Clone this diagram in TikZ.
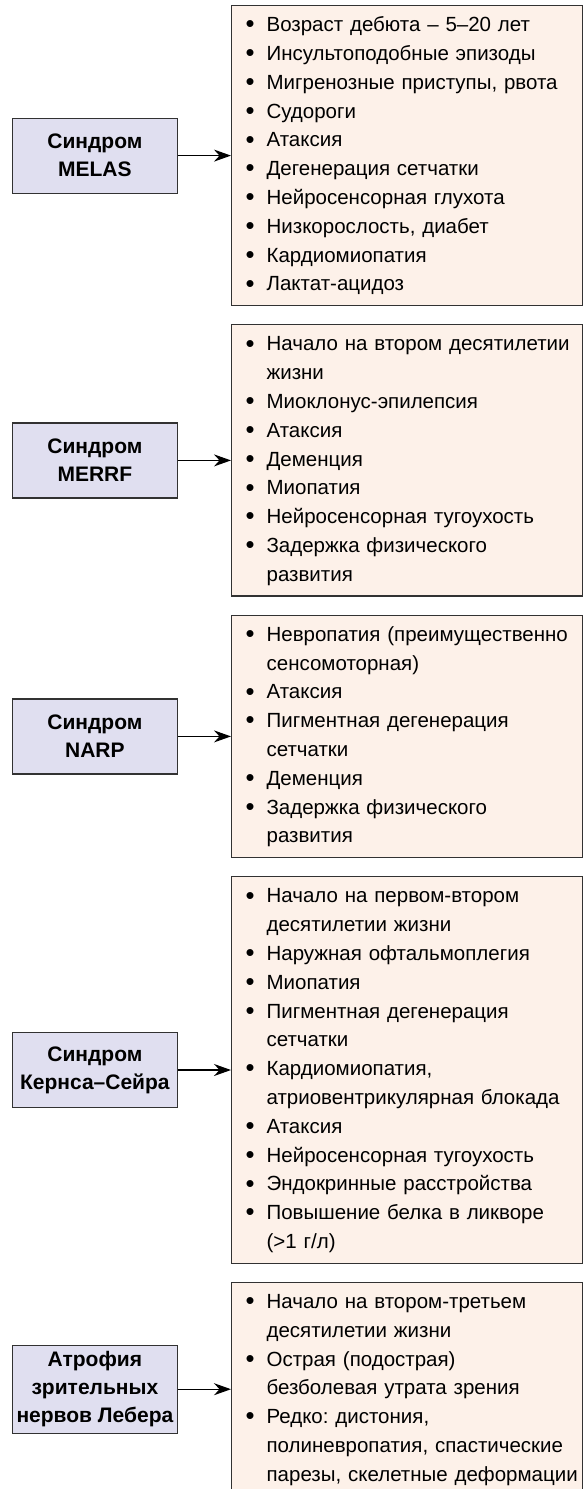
\documentclass[tikz,border=0pt]{standalone}
\usepackage{fontspec}
\usepackage{graphicx}
\setmainfont{Liberation Sans}
\usetikzlibrary{arrows.meta, positioning}
\definecolor{BoxLine}{RGB}{50,50,50}
\definecolor{SynFill}{RGB}{224,223,240}
\definecolor{ListFill}{RGB}{253,241,233}
\newcommand{\itm}[1]{\mbox{\makebox[21pt][l]{\raisebox{-1.2pt}{\scalebox{1.25}{\textbullet}}}#1}\strut}
\newcommand{\cnt}[1]{\mbox{\hspace*{21pt}#1}\strut}
\frenchspacing

\begin{document}
\begin{tikzpicture}[
    syn/.style={draw=BoxLine, line width=1.2pt, fill=SynFill, align=center,
        font=\fontsize{21}{28}\selectfont\bfseries, minimum width=165pt, minimum height=75pt,
        inner xsep=2pt, inner ysep=3pt},
    feat/.style={draw=BoxLine, line width=1.2pt, fill=ListFill, align=left,
        font=\fontsize{20.5}{28.8}\selectfont, text width=323pt, inner xsep=14pt, inner ysep=6pt},
    flow/.style={-{Stealth[length=17pt, width=12pt]}, line width=1.2pt, black},
]
\useasboundingbox (0,0) rectangle (588pt,-1489pt);

% ================= lists =================
\node[feat, anchor=north west] (fmelas) at (231pt,-5pt)
    {\itm{Возраст дебюта – 5–20 лет}\\
     \itm{Инсультоподобные эпизоды}\\
     \itm{Мигренозные приступы, рвота}\\
     \itm{Судороги}\\
     \itm{Атаксия}\\
     \itm{Дегенерация сетчатки}\\
     \itm{Нейросенсорная глухота}\\
     \itm{Низкорослость, диабет}\\
     \itm{Кардиомиопатия}\\
     \itm{Лактат-ацидоз}};
\node[feat, below=18pt of fmelas] (fmerrf)
    {\itm{Начало на втором десятилетии}\\
     \cnt{жизни}\\
     \itm{Миоклонус-эпилепсия}\\
     \itm{Атаксия}\\
     \itm{Деменция}\\
     \itm{Миопатия}\\
     \itm{Нейросенсорная тугоухость}\\
     \itm{Задержка физического}\\
     \cnt{развития}};
\node[feat, below=18pt of fmerrf] (fnarp)
    {\itm{Невропатия (преимущественно}\\
     \cnt{сенсомоторная)}\\
     \itm{Атаксия}\\
     \itm{Пигментная дегенерация}\\
     \cnt{сетчатки}\\
     \itm{Деменция}\\
     \itm{Задержка физического}\\
     \cnt{развития}};
\node[feat, below=18pt of fnarp] (fkss)
    {\itm{Начало на первом-втором}\\
     \cnt{десятилетии жизни}\\
     \itm{Наружная офтальмоплегия}\\
     \itm{Миопатия}\\
     \itm{Пигментная дегенерация}\\
     \cnt{сетчатки}\\
     \itm{Кардиомиопатия,}\\
     \cnt{атриовентрикулярная блокада}\\
     \itm{Атаксия}\\
     \itm{Нейросенсорная тугоухость}\\
     \itm{Эндокринные расстройства}\\
     \itm{Повышение белка в ликворе}\\
     \cnt{(>1 г/л)}};
\node[feat, below=18pt of fkss] (flhon)
    {\itm{Начало на втором-третьем}\\
     \cnt{десятилетии жизни}\\
     \itm{Острая (подострая)}\\
     \cnt{безболевая утрата зрения}\\
     \itm{Редко: дистония,}\\
     \cnt{полиневропатия, спастические}\\
     \cnt{парезы, скелетные деформации}};

% ================= syndromes =================
\node[syn, left=53pt of fmelas] (melas) {Синдром\\MELAS};
\node[syn, left=53pt of fmerrf] (merrf) {Синдром\\MERRF};
\node[syn, left=53pt of fnarp] (narp) {Синдром\\NARP};
\node[syn, left=53pt of fkss] (kss) {Синдром\\Кернса–Сейра};
\node[syn, left=53pt of flhon, minimum height=88pt] (lhon) {Атрофия\\зрительных\\нервов Лебера};

\draw[flow] (melas)--(fmelas);
\draw[flow] (merrf)--(fmerrf);
\draw[flow] (narp)--(fnarp);
\draw[flow] (kss)--(fkss);
\draw[flow] (lhon)--(flhon);

\end{tikzpicture}
\end{document}
